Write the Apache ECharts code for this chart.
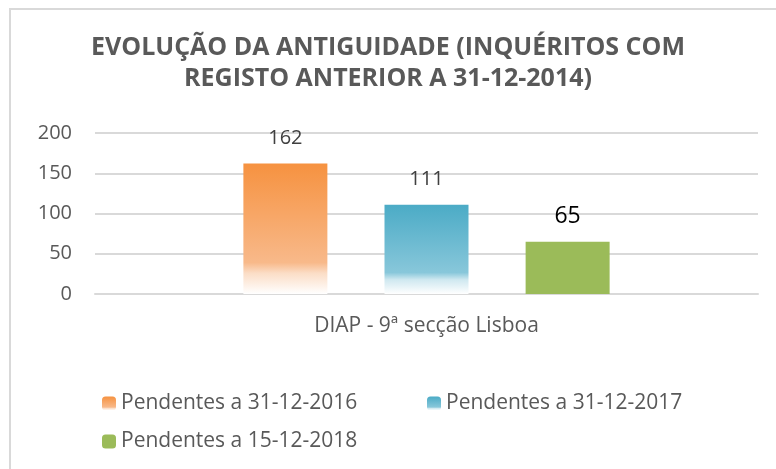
<!DOCTYPE html>
<html>
<head>
<meta charset="utf-8">
<script src="https://cdn.jsdelivr.net/npm/echarts@6/dist/echarts.min.js"></script>
<style>
  html, body { margin: 0; padding: 0; background: #fff; }
  #chart { width: 776px; height: 469px; position: relative; }
  .frame { position: absolute; left: 9px; top: 8px; width: 800px; height: 500px;
           border-top: 2px solid #d9d9d9; border-left: 2px solid #d9d9d9; pointer-events: none; }
</style>
</head>
<body>
<div id="chart"></div>
<div class="frame"></div>
<script>
// data
const categories = ['DIAP - 9ª secção Lisboa'];
const seriesNames = ['Pendentes a 31-12-2016', 'Pendentes a 31-12-2017', 'Pendentes a 15-12-2018'];
const pend2016 = [162];
const pend2017 = [111];
const pend2018 = [65];
const yTicks = [0, 50, 100, 150, 200];

const font = '"Open Sans", sans-serif';

function fade (c0, c1, c2) {
  return new echarts.graphic.LinearGradient(0, 0, 0, 1, [
    { offset: 0, color: c0 },
    { offset: 0.76, color: c1 },
    { offset: 0.84, color: c2 },
    { offset: 1, color: '#ffffff' }
  ]);
}

const labelBase = { show: true, position: 'top', distance: 15, fontFamily: font };
const legendText = { fontFamily: font, fontSize: 21, color: '#595959' };

let option = {
  animation: false,
  title: {
    text: 'EVOLUÇÃO DA ANTIGUIDADE (INQUÉRITOS COM\nREGISTO ANTERIOR A 31-12-2014)',
    left: 'center',
    top: 27,
    padding: [5, 5, 5, 25],
    textStyle: { fontFamily: font, fontWeight: 'bold', fontSize: 25, color: '#595959', lineHeight: 31 }
  },
  legend: [
    { left: 97, top: 388, itemWidth: 14, itemHeight: 14, data: [seriesNames[0]], textStyle: legendText },
    { left: 422, top: 388, itemWidth: 14, itemHeight: 14, data: [seriesNames[1]], textStyle: legendText },
    { left: 97, top: 426, itemWidth: 14, itemHeight: 14, data: [seriesNames[2]], textStyle: legendText }
  ],
  grid: { left: 95, right: 18, top: 133, bottom: 175, containLabel: false },
  xAxis: {
    type: 'category',
    data: categories,
    axisLine: { show: true, lineStyle: { color: '#d9d9d9', width: 2 } },
    axisTick: { show: false },
    axisLabel: { fontFamily: font, fontSize: 21, color: '#595959', margin: 22 }
  },
  yAxis: {
    type: 'value',
    min: yTicks[0],
    max: yTicks[yTicks.length - 1],
    interval: yTicks[1] - yTicks[0],
    axisLine: { show: false },
    axisTick: { show: false },
    axisLabel: { fontFamily: font, fontSize: 20, color: '#595959', margin: 23 },
    splitLine: { lineStyle: { color: '#d9d9d9', width: 2 } }
  },
  series: [
    {
      name: seriesNames[0], type: 'bar', data: pend2016, barWidth: 84, barGap: '68%',
      itemStyle: { color: fade('#F69240', '#F8B98A', '#FBDDC6') },
      label: Object.assign({}, labelBase, { fontSize: 20, color: '#404040' })
    },
    {
      name: seriesNames[1], type: 'bar', data: pend2017, barWidth: 84, barGap: '68%',
      itemStyle: { color: fade('#4BABC6', '#88C7DA', '#CFE8F0') },
      label: Object.assign({}, labelBase, { fontSize: 20, color: '#404040' })
    },
    {
      name: seriesNames[2], type: 'bar', data: pend2018, barWidth: 84, barGap: '68%',
      itemStyle: { color: '#9BBB59' },
      label: Object.assign({}, labelBase, { fontSize: 23, color: '#000000', distance: 14 })
    }
  ]
};

let myChart = echarts.init(document.getElementById('chart'));
myChart.setOption(option);
</script>
</body>
</html>
